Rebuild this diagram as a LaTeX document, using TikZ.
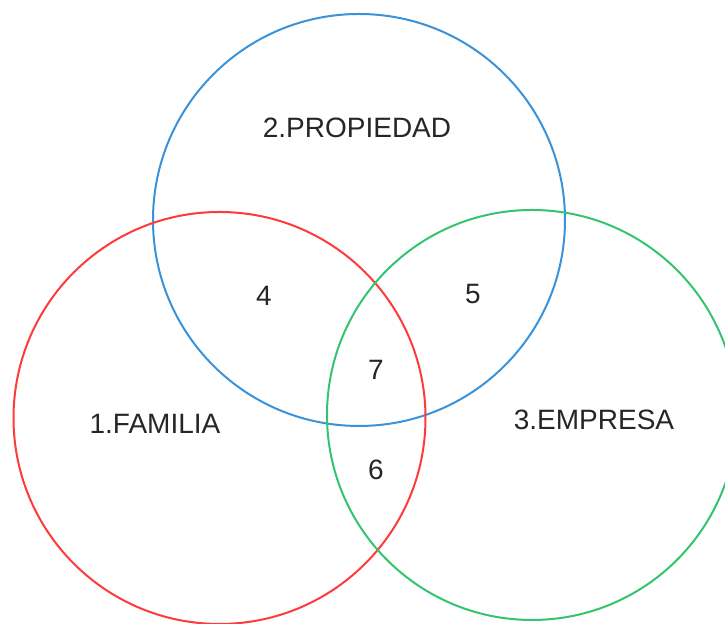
\documentclass[tikz,border=0pt]{standalone}
\usepackage{fontspec}
\setmainfont{Liberation Sans}
\definecolor{propblue}{RGB}{58,146,216}
\definecolor{famred}{RGB}{255,58,58}
\definecolor{empgreen}{RGB}{52,196,112}

\begin{document}
\begin{tikzpicture}[x=0.5pt,y=0.5pt,
    ring/.style={line width=1pt},
    lbl/.style={font=\fontsize{14}{16}\selectfont, text=black!85, inner sep=0pt}]
            \useasboundingbox (0,0) rectangle (725,624);
            \clip (0,0) rectangle (725,624);

            \draw[ring, propblue] (359,404) circle [radius=103pt];
            \draw[ring, famred] (219.5,206) circle [radius=103pt];
            \draw[ring, empgreen] (532,209) circle [radius=102.5pt];

            \node[lbl] (prop) at (357,496) {2.PROPIEDAD};
            \node[lbl] (fam) at (155,200) {1.FAMILIA};
            \node[lbl] (emp) at (594,204) {3.EMPRESA};
            \node[lbl] (pf) at (264,328) {4};
            \node[lbl] (pe) at (473,330) {5};
            \node[lbl] (all) at (376,254) {7};
            \node[lbl] (fe) at (376,154) {6};
        \end{tikzpicture}
\end{document}
